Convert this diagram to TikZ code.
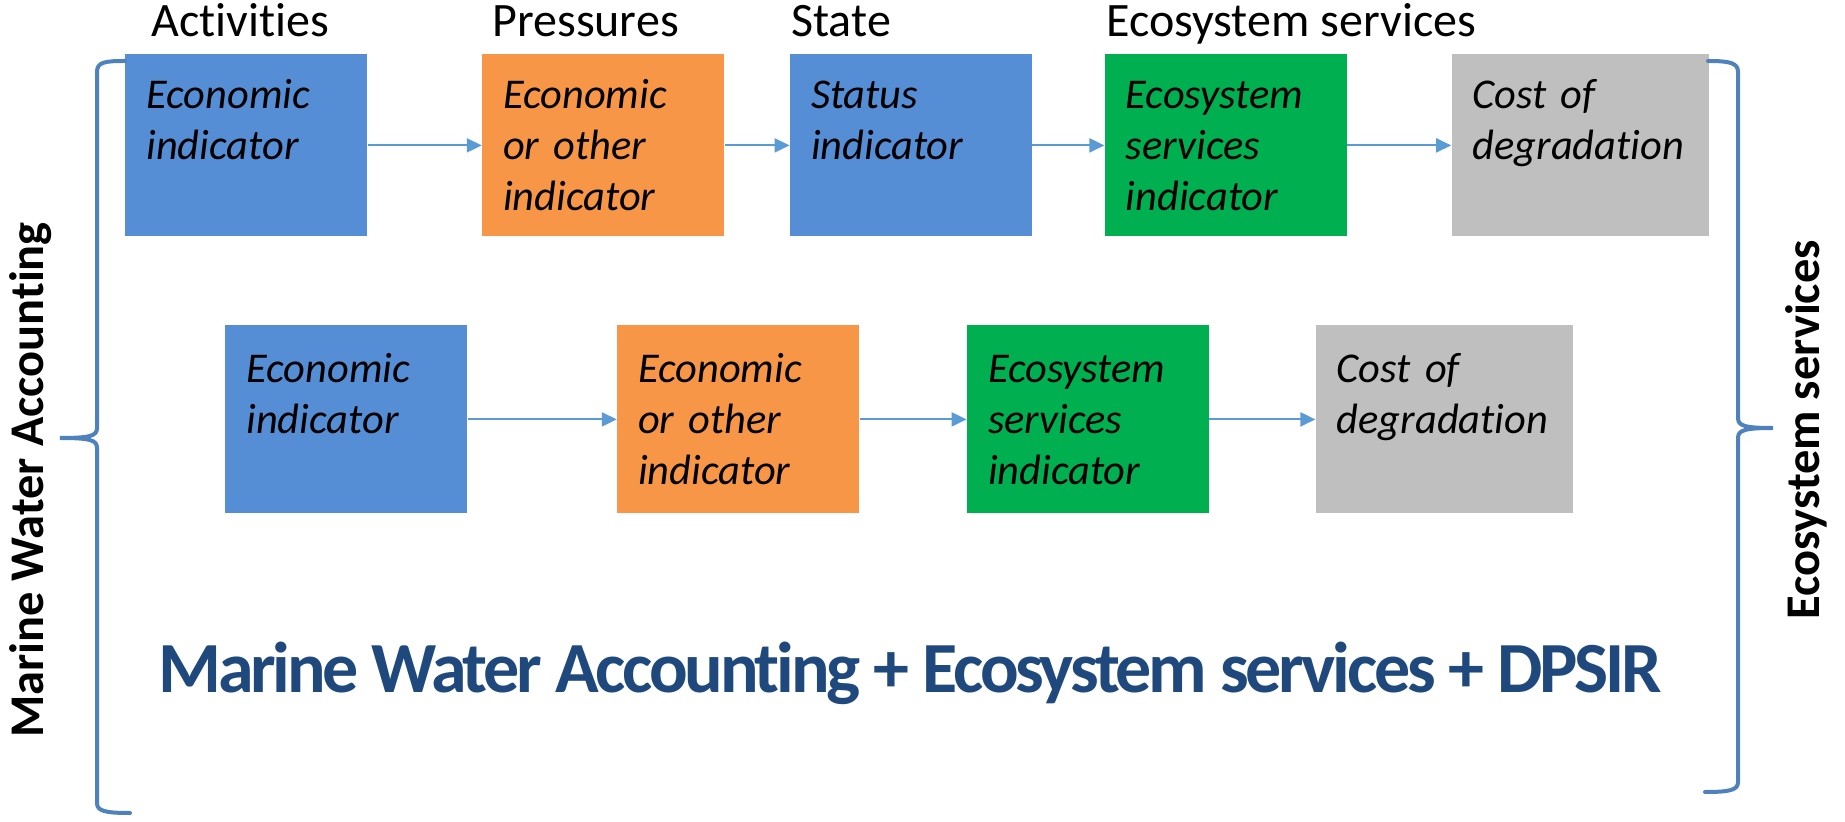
\documentclass[tikz,border=0pt]{standalone}
\usepackage{fontspec}
\setmainfont{Carlito}[Ligatures=NoCommon]
\usepackage{xcolor}
\usetikzlibrary{arrows.meta, positioning}
\definecolor{boxblue}{HTML}{558ED5}
\definecolor{boxorange}{HTML}{F79646}
\definecolor{boxgreen}{HTML}{00B050}
\definecolor{boxgray}{HTML}{BFBFBF}
\definecolor{arrowblue}{HTML}{5B9BD5}
\definecolor{braceblue}{HTML}{4F81BD}
\definecolor{titleblue}{HTML}{1F497D}
\tikzset{
    indbox/.style={
        rectangle,
        inner xsep=10.5pt,
        inner ysep=0pt,
        align=left,
        text width=100pt,
        text height=27pt,
        text depth=64pt,
        font=\itshape\fontsize{21.2}{25.5}\selectfont
    },
    lowbox/.style={
        indbox,
        text height=28.5pt,
        text depth=65.5pt
    },
    widebox/.style={
        text width=107.5pt
    },
    link/.style={
        draw=arrowblue,
        line width=1pt,
        -{Triangle[length=7.5pt,width=7pt]}
    },
    heading/.style={
        anchor=base west,
        inner sep=0pt,
        font=\fontsize{24}{28}\selectfont
    },
    brace/.style={
        draw=braceblue,
        line width=2pt,
        line cap=round
    },
    sidelabel/.style={
        rotate=90,
        anchor=base,
        inner sep=0pt,
        font=\bfseries\fontsize{24.2}{28}\selectfont
    }
}

\begin{document}
\begin{tikzpicture}[x=0.5pt, y=-0.5pt]
\useasboundingbox (0,0) rectangle (1845,822);

% Column headings
\node[heading] (h_act) at (151,37) {Activities};
\node[heading] (h_press) at (492,37) {Pressures};
\node[heading] (h_state) at (791,37) {State};
\node[heading] (h_ess) at (1106,37) {Ecosystem services};

% Top row (DPSIR chain)
\node[indbox, fill=boxblue, anchor=north west] (econ_t) at (125,54) {Economic\\indicator};
\node[indbox, fill=boxorange, right=57pt of econ_t] (press_t) {Economic\\or other\\indicator};
\node[indbox, fill=boxblue, right=32.5pt of press_t] (state_t) {Status\\indicator};
\node[indbox, fill=boxgreen, right=36pt of state_t] (ess_t) {Ecosystem\\services\\indicator};
\node[indbox, widebox, fill=boxgray, right=52pt of ess_t] (cost_t) {Cost of\\degradation};

\draw[link] (econ_t) -- (press_t);
\draw[link] (press_t) -- (state_t);
\draw[link] (state_t) -- (ess_t);
\draw[link] (ess_t) -- (cost_t);

% Bottom row (without state)
\node[lowbox, fill=boxblue, anchor=north west] (econ_b) at (225,325) {Economic\\indicator};
\node[lowbox, fill=boxorange, right=74.5pt of econ_b] (press_b) {Economic\\or other\\indicator};
\node[lowbox, fill=boxgreen, right=53.5pt of press_b] (ess_b) {Ecosystem\\services\\indicator};
\node[lowbox, widebox, fill=boxgray, right=53pt of ess_b] (cost_b) {Cost of\\degradation};

\draw[link] (econ_b) -- (press_b);
\draw[link] (press_b) -- (ess_b);
\draw[link] (ess_b) -- (cost_b);

% Braces
\draw[brace] (125,61) .. controls (105,61) and (97,62) .. (97,72) -- (97,428)
    .. controls (97,436) and (90,438) .. (60,438)
    .. controls (90,438) and (97,440) .. (97,448) -- (97,803)
    .. controls (97,811) and (105,813) .. (130,813);
\draw[brace] (1708,61) .. controls (1730,61) and (1738,63) .. (1738,72) -- (1738,418)
    .. controls (1738,426) and (1745,428) .. (1773,428)
    .. controls (1745,428) and (1738,430) .. (1738,438) -- (1738,782)
    .. controls (1738,790) and (1730,792) .. (1705,792);

\node[sidelabel] (mwa) at (43,480) {Marine Water Accounting};
\node[sidelabel] (es) at (1819,430) {Ecosystem services};

% Title
\node[anchor=base west, inner sep=0pt, text=titleblue, font=\bfseries\fontsize{36}{40}\selectfont\addfontfeatures{LetterSpace=-4.5}] (title) at (158,692) {Marine Water Accounting + Ecosystem services + DPSIR};

\end{tikzpicture}
\end{document}
